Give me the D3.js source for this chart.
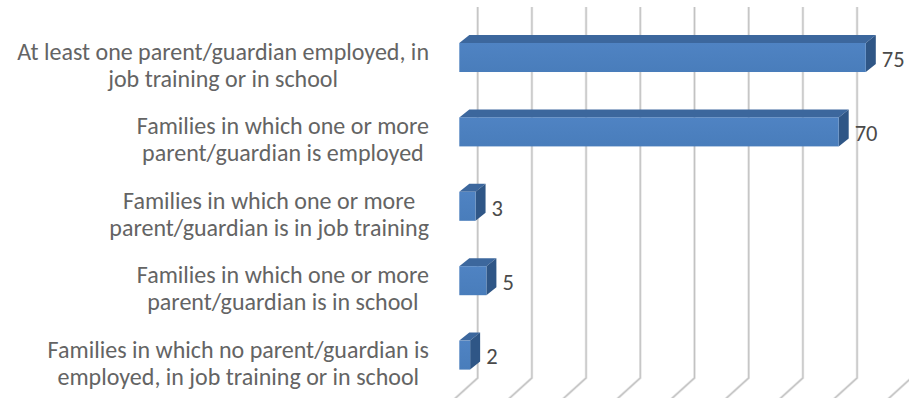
<!DOCTYPE html>
<html>
<head>
<meta charset="utf-8">
<script src="https://cdn.jsdelivr.net/npm/d3@7"></script>
<style>
  html, body { margin: 0; padding: 0; background: #fff; }
  svg { display: block; }
  text { font-family: Carlito, Calibri, Lato, "Open Sans", sans-serif; }
</style>
</head>
<body>
<script>
// Category labels, one entry per bar, already split into display lines
const categoryLines = [
  ["At least one parent/guardian employed, in", "job training or in school"],
  ["Families in which one or more", "parent/guardian is employed"],
  ["Families in which one or more", "parent/guardian is in job training"],
  ["Families in which one or more", "parent/guardian is in school"],
  ["Families in which no parent/guardian is", "employed, in job training or in school"]
];
const values = [75, 70, 3, 5, 2];
const gridTicks = [0, 10, 20, 30, 40, 50, 60, 70, 80];

const W = 909, H = 398;

// Oblique 3D look: bar depth offset, back wall offset, floor slant
const barDepth = { dx: 10, dy: -8 };
const wallShift = 18.4;
const wallTop = 7, wallBottom = 378;
const floorRun = { dx: -24, dy: 21.7 };

const svg = d3.select("body").append("svg")
  .attr("width", W).attr("height", H);

const x = d3.scaleLinear().domain([0, 80]).range([459.3, 892.9]);
const y = d3.scaleBand()
  .domain(d3.range(values.length))
  .range([20.3, 392.3])
  .paddingInner(0.61)
  .paddingOuter(0.305);
const bw = y.bandwidth();

// Gradient for the front faces
const defs = svg.append("defs");
const grad = defs.append("linearGradient").attr("id", "frontGrad")
  .attr("x1", 0).attr("y1", 0).attr("x2", 0).attr("y2", 1);
grad.append("stop").attr("offset", "0%").attr("stop-color", "#4F83C3");
grad.append("stop").attr("offset", "100%").attr("stop-color", "#497DBB");

// Back-wall gridlines with their floor continuation
const grid = svg.append("g");
gridTicks.forEach(t => {
  const xb = x(t) + wallShift;
  const path = `M${xb},${wallTop}L${xb},${wallBottom}L${xb + floorRun.dx},${wallBottom + floorRun.dy}`;
  grid.append("path").attr("d", path)
    .attr("fill", "none").attr("stroke", "#E3E3E3").attr("stroke-width", 2.6);
  grid.append("path").attr("d", path)
    .attr("fill", "none").attr("stroke", "#C2C2C2").attr("stroke-width", 1.1);
});

// Bars
const bars = svg.append("g").selectAll("g").data(values).join("g");
bars.each(function (v, i) {
  const g = d3.select(this);
  const x0 = x(0), x1 = x(v), yt = y(i), yb = yt + bw;
  const { dx, dy } = barDepth;
  g.append("polygon")
    .attr("points", [[x0, yt], [x1, yt], [x1 + dx, yt + dy], [x0 + dx, yt + dy]].join(" "))
    .attr("fill", "#3C679D");
  g.append("polygon")
    .attr("points", [[x1, yt], [x1 + dx, yt + dy], [x1 + dx, yb + dy], [x1, yb]].join(" "))
    .attr("fill", "#2F5686");
  g.append("rect")
    .attr("x", x0).attr("y", yt)
    .attr("width", x1 - x0).attr("height", bw)
    .attr("fill", "url(#frontGrad)");
});

// Value labels
svg.append("g").selectAll("text").data(values).join("text")
  .attr("x", v => x(v) + barDepth.dx + 6)
  .attr("y", (v, i) => y(i) + bw / 2 + 1.5)
  .attr("dy", "0.35em")
  .attr("font-size", 22.5)
  .attr("fill", "#4A4A4A")
  .text(v => v);

// Category labels: wrapped lines centred on each other, block right-aligned
const labelRight = 429;
const lineGap = 27;
const cats = svg.append("g").selectAll("text").data(categoryLines).join("text")
  .attr("font-size", 24)
  .attr("fill", "#646464")
  .attr("text-anchor", "middle");
cats.each(function (lines, i) {
  const t = d3.select(this);
  const cy = y(i) + bw / 2 + 7.5;
  const spans = lines.map((line, k) =>
    t.append("tspan")
      .attr("y", cy + (k - (lines.length - 1) / 2) * lineGap)
      .attr("dy", "0.35em")
      .text(line));
  const maxW = d3.max(spans, s => s.node().getComputedTextLength());
  spans.forEach(s => s.attr("x", labelRight - maxW / 2));
});
</script>
</body>
</html>
